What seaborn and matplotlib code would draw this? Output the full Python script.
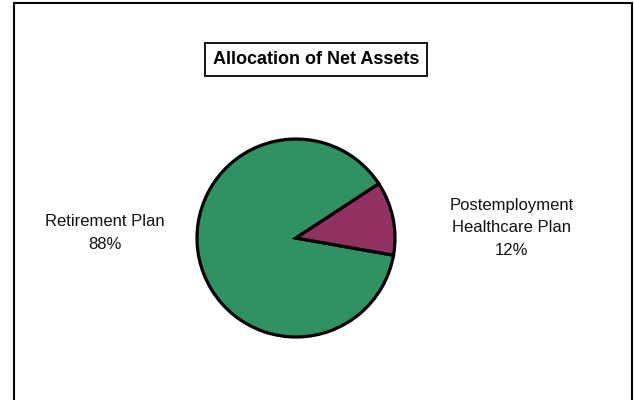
import matplotlib
matplotlib.use("Agg")
import matplotlib.pyplot as plt
import seaborn as sns
from matplotlib.patches import Rectangle

# Net asset allocation by plan
plans = ["Retirement Plan", "Postemployment\nHealthcare Plan"]
shares = [88, 12]
colors = ["#2E9262", "#923262"]

sns.set_theme(style="white")
plt.rcParams["font.family"] = ["Liberation Sans", "DejaVu Sans"]

W, H = 634, 400
fig = plt.figure(figsize=(W / 100, H / 100), dpi=100)
fig.patch.set_facecolor("white")

# outer frame
fig.add_artist(Rectangle((14 / W, -0.05), (632 - 14) / W, 1.05 - 3 / H,
                         transform=fig.transFigure, fill=False,
                         edgecolor="black", linewidth=1.5))

# pie axes: centre (296, 238) px, radius 99 px
cx, cy, r = 296, 238, 99
ax = fig.add_axes([(cx - r) / W, (H - cy - r) / H, 2 * r / W, 2 * r / H])
ax.pie(shares, colors=colors, startangle=33.2, counterclock=True,
       wedgeprops=dict(edgecolor="black", linewidth=2.3))
ax.set_xlim(-1.0, 1.0)
ax.set_ylim(-1.0, 1.0)
ax.set_aspect("equal")
ax.axis("off")

# category labels with percentages
fig.text(105 / W, 1 - 233 / H, f"{plans[0]}\n{shares[0]}%", ha="center",
         va="center", fontsize=12, color="#111111", linespacing=1.65)
fig.text(512 / W, 1 - 228 / H, f"{plans[1]}\n{shares[1]}%", ha="center",
         va="center", fontsize=12, color="#111111", linespacing=1.65)

# boxed title
fig.text(316 / W, 1 - 59.5 / H, "Allocation of Net Assets", ha="center",
         va="center", fontsize=13, fontweight="bold", color="black",
         bbox=dict(boxstyle="square,pad=0.42", facecolor="white",
                   edgecolor="black", linewidth=1.3))

fig.savefig("out.png", dpi=100, facecolor="white")
